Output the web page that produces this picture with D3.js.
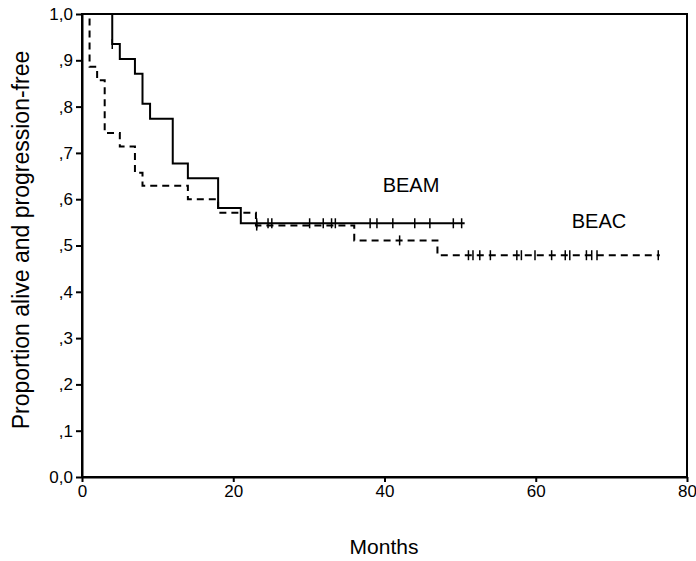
<!DOCTYPE html>
<html lang="en">
<head>
<meta charset="UTF-8">
<title>Proportion alive and progression-free</title>
<script src="https://d3js.org/d3.v7.min.js"></script>
<style>
    body { margin: 0; background: #fff; }
    text { font-family: "Liberation Sans", Arial, sans-serif; fill: #000; }
    .axis path, .axis line { stroke: #000; stroke-width: 2px; }
    .axis text { font-size: 17px; }
</style>
</head>
<body>
<svg width="696" height="561"></svg>
<script>
    // BEAM (solid line)
    var beamTimes = [0, 4, 5, 7, 8, 9, 12, 14, 18, 21, 50.6];
    var beamSurv = [1.0, 0.935, 0.903, 0.871, 0.806, 0.774, 0.677, 0.645, 0.581, 0.548, 0.548];
    var beamCensored = [4, 23.1, 24.6, 25.1, 30.1, 31.9, 33, 33.5, 38.1, 39, 41.1, 44, 46, 49.1, 50.2];

    // BEAC (dashed line)
    var beacTimes = [0, 1, 2, 3, 5, 7, 8, 14, 18, 23, 36, 47, 76.4];
    var beacSurv = [1.0, 0.886, 0.857, 0.743, 0.714, 0.657, 0.629, 0.600, 0.571, 0.543, 0.511, 0.479, 0.479];
    var beacCensored = [23.1, 42, 51.1, 51.7, 52.6, 54, 57.5, 58.1, 59.9, 62.1, 63.9, 64.5, 66.7, 67.4, 68.1, 76.2];

    var xTicks = [0, 20, 40, 60, 80];
    var yTicks = [0, 0.1, 0.2, 0.3, 0.4, 0.5, 0.6, 0.7, 0.8, 0.9, 1.0];

    var svg = d3.select("svg"),
        margin = {top: 14, left: 82, right: 9, bottom: 84},
        width = +svg.attr("width") - margin.left - margin.right,
        height = +svg.attr("height") - margin.top - margin.bottom;

    var x = d3.scaleLinear().domain([0, 80]).range([0, width]);
    var y = d3.scaleLinear().domain([0, 1]).range([height, 0]);

    var g = svg.append("g").attr("transform", "translate(" + margin.left + "," + margin.top + ")");

    // frame
    g.append("rect")
        .attr("width", width).attr("height", height)
        .style("fill", "none").style("stroke", "#000").style("stroke-width", "2px");

    g.append("g").attr("class", "axis")
        .attr("transform", "translate(0," + height + ")")
        .call(d3.axisBottom(x).tickValues(xTicks).tickSize(5).tickSizeOuter(0).tickPadding(3));

    g.append("g").attr("class", "axis")
        .call(d3.axisLeft(y).tickValues(yTicks).tickSize(6).tickSizeOuter(0).tickPadding(3)
            .tickFormat(function(d) {
                if (d === 0) return "0,0";
                if (d === 1) return "1,0";
                return "," + Math.round(d * 10);
            }));

    function addCurve(times, surv, censored, dash) {
        var pts = times.map(function(t, i) { return [t, surv[i]]; });
        var line = d3.line()
            .x(function(d) { return x(d[0]); })
            .y(function(d) { return y(d[1]); })
            .curve(d3.curveStepAfter);
        g.append("path")
            .datum(pts)
            .attr("d", line)
            .style("fill", "none")
            .style("stroke", "#000")
            .style("stroke-width", "2px")
            .style("stroke-dasharray", dash);

        g.append("g").selectAll("line")
            .data(censored)
            .enter().append("line")
            .attr("x1", function(d) { return x(d); })
            .attr("x2", function(d) { return x(d); })
            .attr("y1", function(d) { return y(surv[d3.bisectRight(times, d) - 1]) - 5; })
            .attr("y2", function(d) { return y(surv[d3.bisectRight(times, d) - 1]) + 5; })
            .style("stroke", "#000")
            .style("stroke-width", "1.5px");
    }

    addCurve(beacTimes, beacSurv, beacCensored, "7,5");
    addCurve(beamTimes, beamSurv, beamCensored, null);

    svg.append("text").attr("x", 411).attr("y", 192).attr("text-anchor", "middle")
        .style("font-size", "20px").text("BEAM");
    svg.append("text").attr("x", 599).attr("y", 228).attr("text-anchor", "middle")
        .style("font-size", "20px").text("BEAC");

    svg.append("text")
        .attr("transform", "translate(29,240) rotate(-90)")
        .attr("text-anchor", "middle")
        .style("font-size", "23px").text("Proportion alive and progression-free");

    svg.append("text").attr("x", 384).attr("y", 554)
        .attr("text-anchor", "middle")
        .style("font-size", "21px").text("Months");
</script>
</body>
</html>
